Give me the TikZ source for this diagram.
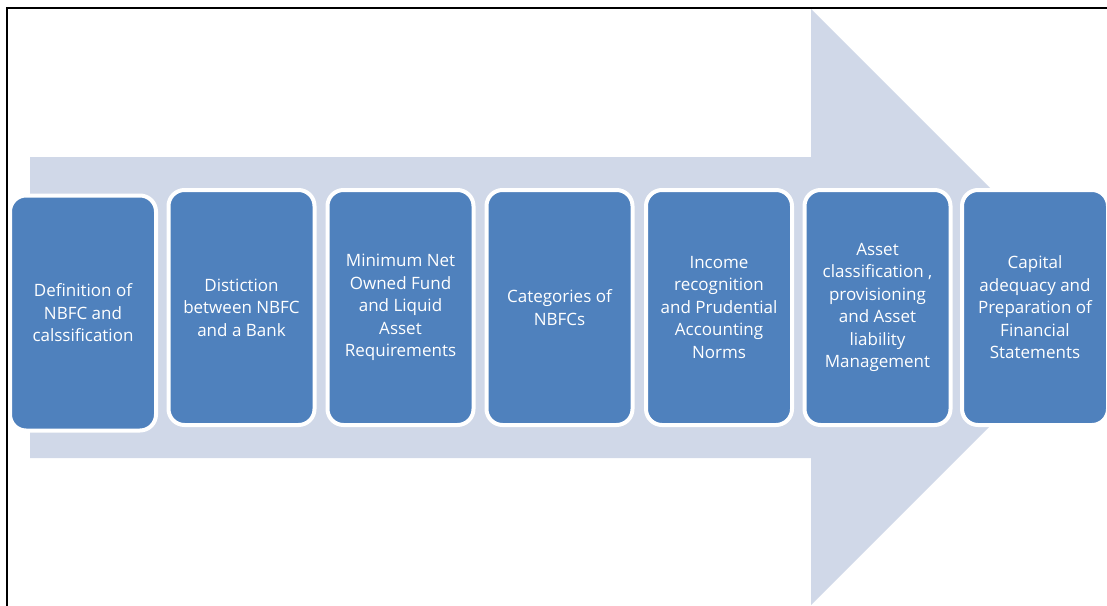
\documentclass[tikz,border=0pt]{standalone}
\usepackage{fontspec}
\setmainfont{Open Sans}
\definecolor{arrowfill}{HTML}{D0D8E8}
\definecolor{boxfill}{HTML}{4F81BD}
\tikzset{
  stagebox/.style={draw=white, line width=4pt, fill=boxfill, rounded corners=16pt,
    minimum width=146pt, minimum height=235pt, inner sep=0pt,
    text=white, align=center, font=\fontsize{17}{22.5}\selectfont},
  bigarrow/.style={fill=arrowfill, draw=none},
  frame/.style={draw=black, line width=2.5pt}
}
\begin{document}
\begin{tikzpicture}[x=1pt,y=-1pt]
\useasboundingbox (0,0) rectangle (1107,605);
\fill[white] (0,0) rectangle (1107,605);
\path[bigarrow] (30,157) -- (811,157) -- (811,9) -- (1109,307) -- (811,605) -- (811,458) -- (30,458) -- cycle;
\draw[frame] (7,610) -- (7,8) -- (1115,8);
\node[stagebox] (b1) at (83,313) {Definition of\\NBFC and\\calssification};
\node[stagebox] (b2) at (241.5,307.5) {Distiction\\between NBFC\\and a Bank};
\node[stagebox] (b3) at (400.5,307.5) {Minimum Net\\Owned Fund\\and Liquid\\Asset\\Requirements};
\node[stagebox] (b4) at (559.5,307.5) {Categories of\\NBFCs};
\node[stagebox] (b5) at (719,307.5) {Income\\recognition\\and Prudential\\Accounting\\Norms};
\node[stagebox] (b6) at (877.5,307.5) {Asset\\classification ,\\provisioning\\and Asset\\liability\\Management};
\node[stagebox] (b7) at (1035,307.5) {Capital\\adequacy and\\Preparation of\\Financial\\Statements};
\end{tikzpicture}
\end{document}
